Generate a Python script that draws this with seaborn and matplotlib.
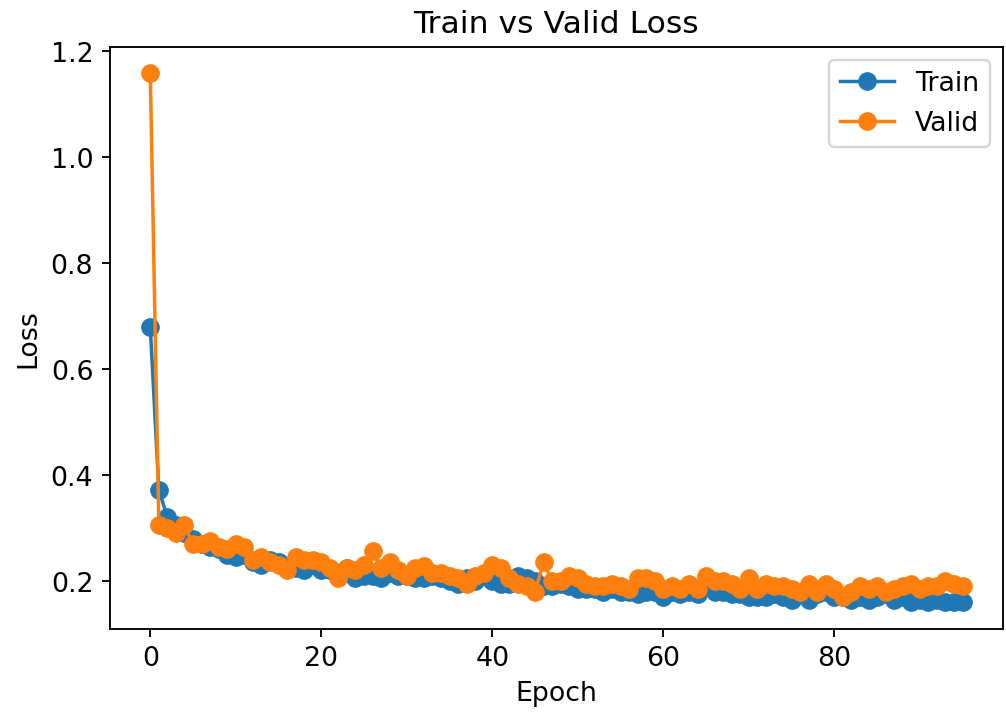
import numpy as np
import pandas as pd
import seaborn as sns
import matplotlib.pyplot as plt

# Loss per epoch
train_loss = [
    0.679, 0.372, 0.320, 0.305, 0.290, 0.280, 0.270, 0.265, 0.260, 0.250,
    0.245, 0.250, 0.235, 0.230, 0.240, 0.235, 0.225, 0.225, 0.220, 0.230,
    0.220, 0.220, 0.215, 0.225, 0.205, 0.210, 0.210, 0.205, 0.215, 0.210,
    0.210, 0.205, 0.205, 0.210, 0.205, 0.200, 0.195, 0.205, 0.200, 0.210,
    0.200, 0.195, 0.195, 0.210, 0.205, 0.200, 0.190, 0.190, 0.195, 0.190,
    0.185, 0.185, 0.185, 0.180, 0.185, 0.180, 0.180, 0.175, 0.180, 0.180,
    0.170, 0.180, 0.175, 0.180, 0.175, 0.190, 0.180, 0.180, 0.175, 0.175,
    0.170, 0.170, 0.170, 0.175, 0.170, 0.165, 0.175, 0.165, 0.175, 0.180,
    0.170, 0.170, 0.165, 0.170, 0.165, 0.170, 0.175, 0.165, 0.170, 0.160,
    0.165, 0.160, 0.165, 0.160, 0.160, 0.160,
]
valid_loss = [
    1.158, 0.305, 0.300, 0.290, 0.305, 0.270, 0.270, 0.275, 0.265, 0.260,
    0.270, 0.265, 0.240, 0.245, 0.235, 0.230, 0.220, 0.245, 0.240, 0.240,
    0.235, 0.225, 0.205, 0.225, 0.220, 0.230, 0.257, 0.225, 0.235, 0.220,
    0.210, 0.225, 0.228, 0.215, 0.215, 0.210, 0.205, 0.195, 0.210, 0.215,
    0.230, 0.225, 0.205, 0.195, 0.190, 0.180, 0.235, 0.200, 0.200, 0.210,
    0.205, 0.195, 0.190, 0.190, 0.195, 0.190, 0.185, 0.205, 0.205, 0.200,
    0.185, 0.190, 0.185, 0.195, 0.185, 0.210, 0.200, 0.200, 0.195, 0.185,
    0.205, 0.185, 0.195, 0.190, 0.190, 0.185, 0.180, 0.195, 0.180, 0.195,
    0.185, 0.170, 0.180, 0.190, 0.185, 0.190, 0.180, 0.185, 0.190, 0.195,
    0.185, 0.190, 0.190, 0.200, 0.195, 0.190,
]
epochs = list(range(len(train_loss)))

df = pd.DataFrame({"Epoch": epochs, "Train": train_loss, "Valid": valid_loss})

plt.rcParams["font.size"] = 11.5
plt.rcParams["axes.titlesize"] = 13.5

fig, ax = plt.subplots(figsize=(6.0, 4.28), dpi=167.7)
fig.subplots_adjust(left=0.109, right=0.997, top=0.934, bottom=0.123)

sns.lineplot(data=df, x="Epoch", y="Train", ax=ax, marker="o", color="#1f77b4",
             label="Train", markersize=7.5, markeredgewidth=0.5, markeredgecolor="#1f77b4")
sns.lineplot(data=df, x="Epoch", y="Valid", ax=ax, marker="o", color="#ff7f0e",
             label="Valid", markersize=7.5, markeredgewidth=0.5, markeredgecolor="#ff7f0e")

ax.set_title("Train vs Valid Loss")
ax.set_xlabel("Epoch")
ax.set_ylabel("Loss")
ax.legend(loc="upper right")

fig.savefig("out.png", dpi=167.7)
